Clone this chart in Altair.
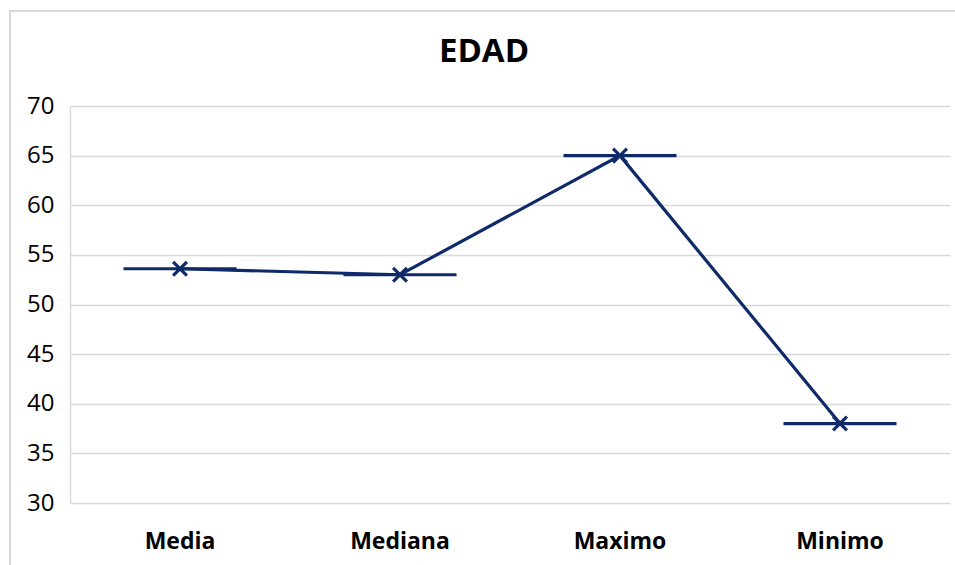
import altair as alt
import pandas as pd

# Summary statistics of age
categories = ["Media", "Mediana", "Maximo", "Minimo"]
values = [53.6, 53.0, 65.0, 38.0]
y_ticks = [30, 35, 40, 45, 50, 55, 60, 65, 70]

df = pd.DataFrame({"stat": categories, "edad": values})

NAVY = "#0f2a68"
GRID = "#d9d9d9"

x_enc = alt.X(
    "stat:N",
    sort=categories,
    title=None,
    scale=alt.Scale(paddingInner=0, paddingOuter=0),
    axis=alt.Axis(
        labelAngle=0,
        labelFontSize=23,
        labelFontWeight="bold",
        labelColor="#000000",
        labelPadding=27,
        ticks=False,
        domain=False,
        grid=False,
    ),
)
y_enc = alt.Y(
    "edad:Q",
    title=None,
    scale=alt.Scale(domain=[30, 70], nice=False, zero=False),
    axis=alt.Axis(
        values=y_ticks,
        labelFontSize=24,
        labelColor="#000000",
        labelPadding=16,
        ticks=False,
        domain=True,
        domainColor=GRID,
        domainWidth=1.5,
        gridColor=GRID,
        gridWidth=1.5,
    ),
)

base = alt.Chart(df).encode(x=x_enc, y=y_enc)

# outer chart frame
frame = alt.Chart(df).mark_rect(
    fill=None, stroke=GRID, strokeWidth=1.5
).encode(
    x=alt.value(-60), x2=alt.value(960), y=alt.value(-95), y2=alt.value(600)
)

line = base.mark_line(color=NAVY, strokeWidth=3.2)
bars = base.mark_tick(color=NAVY, size=113, thickness=3.2, opacity=1)
marks = base.mark_point(
    shape="M-1,-1L1,1M-1,1L1,-1",
    size=190,
    stroke=NAVY,
    strokeWidth=3.2,
    filled=False,
    opacity=1,
)

chart = (
    alt.layer(frame, line, bars, marks)
    .properties(
        width=880,
        height=397,
        title=alt.TitleParams(
            "EDAD",
            fontSize=33,
            fontWeight="bold",
            color="#000000",
            anchor="middle",
            dx=-26,
            offset=-59,
        ),
        padding={"left": 70, "top": 106, "right": 5, "bottom": 62},
        autosize=alt.AutoSizeParams(type="none"),
    )
    .configure(font="Open Sans", background="#ffffff")
    .configure_view(stroke=None)
)

chart.save("out.html", embed_options={"renderer": "svg", "actions": False})
